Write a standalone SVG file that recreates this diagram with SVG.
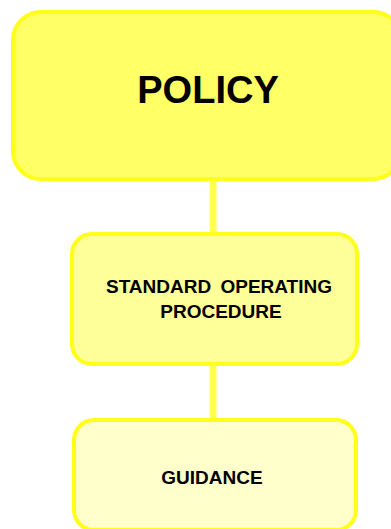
<svg xmlns="http://www.w3.org/2000/svg" width="391" height="529" viewBox="0 0 391 529">
<style>
.box{stroke:#FFFF1A;stroke-width:4}
.lbl{font-family:"Liberation Sans",Arial,sans-serif;font-weight:bold;fill:#000;text-anchor:middle}
.conn{stroke:#FFFF4D;stroke-width:7;fill:none}
</style>
<rect width="391" height="529" fill="#FFFFFF"/>
<g id="connectors">
<line class="conn" x1="213" y1="179" x2="213" y2="234"/>
<line class="conn" x1="213" y1="364" x2="213" y2="420"/>
</g>
<g id="policy">
<rect class="box" x="13" y="12" width="388" height="167" rx="28" fill="#FFFF66"/>
<text class="lbl" x="208" y="103" font-size="38">POLICY</text>
</g>
<g id="sop">
<rect class="box" x="72" y="234" width="285" height="130" rx="20" fill="#FFFF99"/>
<text class="lbl" x="219" y="293" font-size="19" word-spacing="4">STANDARD OPERATING</text>
<text class="lbl" x="221" y="318" font-size="19">PROCEDURE</text>
</g>
<g id="guidance">
<rect class="box" x="74" y="420" width="282" height="110" rx="20" fill="#FFFFCC"/>
<text class="lbl" x="212" y="484" font-size="19">GUIDANCE</text>
</g>
</svg>
